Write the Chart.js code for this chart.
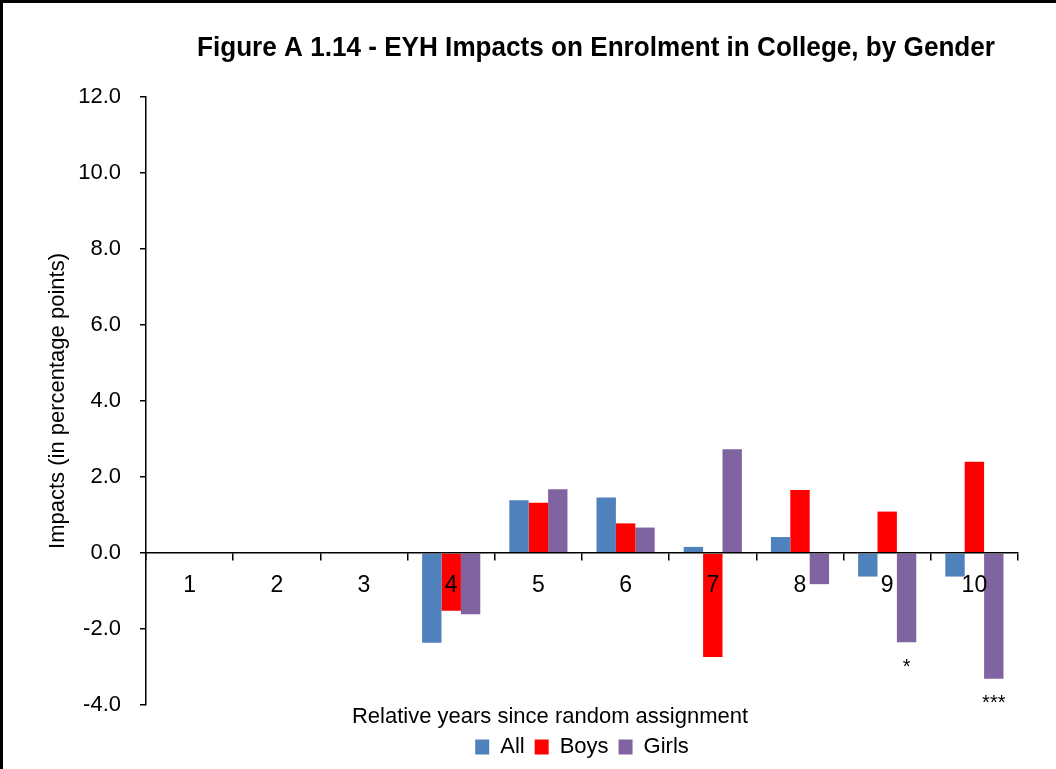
<!DOCTYPE html>
<html><head><meta charset="utf-8">
<script src="https://cdn.jsdelivr.net/npm/chart.js@4.4.1/dist/chart.umd.min.js"></script>
<style>html,body{margin:0;padding:0;background:#fff;}canvas{display:block;}</style>
</head><body>
<canvas id="c" width="1056" height="769"></canvas>
<script>
const chartTitle = 'Figure A 1.14 - EYH Impacts on Enrolment in College, by Gender';
const xAxisTitle = 'Relative years since random assignment';
const yAxisTitle = 'Impacts (in percentage points)';
const categories = ['1', '2', '3', '4', '5', '6', '7', '8', '9', '10'];
const seriesNames = ['All', 'Boys', 'Girls'];
const allValues   = [null, null, null, -2.36, 1.39, 1.46, 0.16, 0.42, -0.62, -0.62];
const boysValues  = [null, null, null, -1.52, 1.32, 0.78, -2.74, 1.66, 1.09, 2.40];
const girlsValues = [null, null, null, -1.61, 1.68, 0.67, 2.73, -0.82, -2.35, -3.31];
const girlsSignificance = ['', '', '', '', '', '', '', '', '*', '***'];
const yMin = -4, yMax = 12, yStep = 2;
const seriesColors = ['#4F81BD', '#FF0000', '#8064A2'];

const FAMILY = '"Liberation Sans", Arial, sans-serif';
Chart.defaults.font.family = FAMILY;
Chart.defaults.color = '#000';

const decorPlugin = {
  id: 'decor',
  afterDraw(chart) {
    const {ctx, chartArea} = chart;
    ctx.save();
    // outer frame (top and left edges)
    ctx.fillStyle = '#000';
    ctx.fillRect(0, 0, chart.width, 3);
    ctx.fillRect(0, 0, 3, chart.height);
    // main title (condensed bold)
    ctx.font = 'bold 28px "Liberation Sans Narrow", ' + FAMILY;
    ctx.textAlign = 'center';
    ctx.textBaseline = 'alphabetic';
    const w = ctx.measureText(chartTitle).width;
    const cx = (chartArea.left + chartArea.right) / 2 + 14;
    ctx.translate(cx, 56);
    ctx.scale(798 / w, 1);
    ctx.fillText(chartTitle, 0, 0);
    ctx.restore();
    // x axis title
    ctx.save();
    ctx.font = '22px ' + FAMILY;
    ctx.fillStyle = '#000';
    ctx.textAlign = 'center';
    ctx.textBaseline = 'alphabetic';
    ctx.fillText(xAxisTitle, (chartArea.left + chartArea.right) / 2 - 32, chartArea.bottom + 18);
    ctx.restore();
  },
  afterDatasetsDraw(chart) {
    const {ctx} = chart;
    const meta = chart.getDatasetMeta(2);
    ctx.save();
    ctx.font = '20px ' + FAMILY;
    ctx.fillStyle = '#000';
    ctx.textAlign = 'center';
    ctx.textBaseline = 'top';
    meta.data.forEach((bar, i) => {
      const s = girlsSignificance[i];
      if (!s || bar.y == null) return;
      const bottom = Math.max(bar.y, bar.base);
      ctx.fillText(s, bar.x, bottom + 15);
    });
    ctx.restore();
  }
};

new Chart(document.getElementById('c'), {
  type: 'bar',
  data: {
    labels: categories,
    datasets: [
      {label: seriesNames[0], data: allValues, backgroundColor: seriesColors[0]},
      {label: seriesNames[1], data: boysValues, backgroundColor: seriesColors[1]},
      {label: seriesNames[2], data: girlsValues, backgroundColor: seriesColors[2]}
    ]
  },
  options: {
    responsive: false,
    animation: false,
    devicePixelRatio: 1,
    categoryPercentage: 0.667,
    barPercentage: 1.0,
    layout: {padding: {top: 97, right: 38, bottom: 1, left: 0}},
    plugins: {
      title: {display: false},
      tooltip: {enabled: false},
      legend: {
        position: 'bottom',
        fullSize: false,
        align: 'center',
        title: {display: true, text: '', font: {size: 1, lineHeight: 1}, padding: {top: 10, bottom: 10}},
        labels: {font: {size: 22}, color: '#000', boxWidth: 14, boxHeight: 15, padding: 10}
      }
    },
    scales: {
      x: {
        position: {y: 0},
        offset: true,
        grid: {display: true, drawOnChartArea: false, drawTicks: true, tickLength: 7, color: '#000', lineWidth: 1.5, offset: true},
        border: {display: true, color: '#000', width: 1.5, z: 1},
        ticks: {font: {size: 23}, color: '#000', padding: 12, maxRotation: 0, autoSkip: false, z: 1}
      },
      y: {
        min: yMin,
        max: yMax,
        ticks: {stepSize: yStep, font: {size: 22}, color: '#000', padding: 19, callback: v => v.toFixed(1)},
        grid: {drawOnChartArea: false, drawTicks: true, tickLength: 6, color: '#000', lineWidth: 1.5},
        border: {display: true, color: '#000', width: 1.5},
        title: {display: true, text: yAxisTitle, font: {size: 22}, color: '#000', padding: {top: 45, bottom: 0}},
        afterFit(scale) { scale.width = 146; }
      }
    }
  },
  plugins: [decorPlugin]
});
</script>
</body></html>
